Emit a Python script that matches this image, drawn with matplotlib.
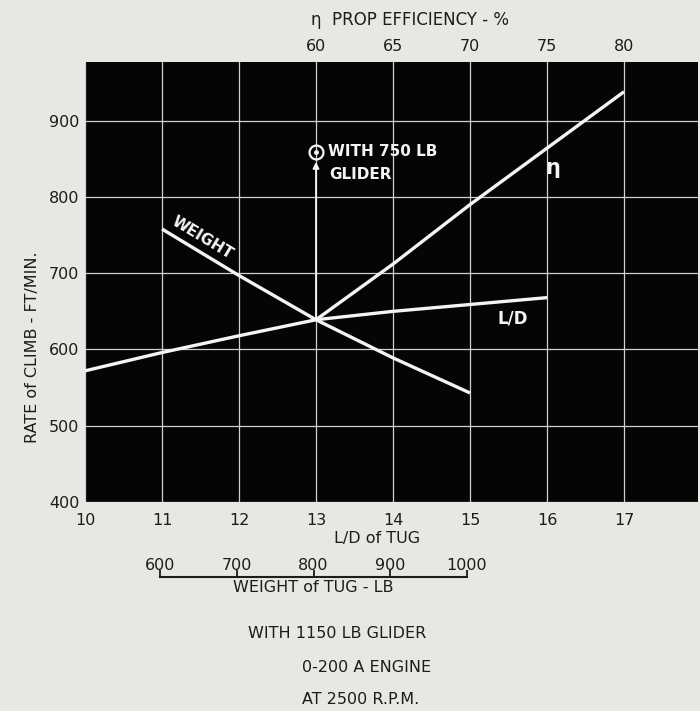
import numpy as np
import matplotlib
matplotlib.use('Agg')
import matplotlib.pyplot as plt

# data
ld = [10, 11, 12, 13, 14, 15, 16]
rc_ld = [572, 596, 618, 639, 650, 659, 668]

weight = [600, 700, 800, 900, 1000]
rc_weight = [758, 697, 639, 589, 543]

eta = [60, 65, 70, 75, 80]
rc_eta = [639, 712, 790, 864, 938]

glider750_rc = 859
weight_ticks = [600, 700, 800, 900, 1000]
eta_ticks = [60, 65, 70, 75, 80]

def w_to_x(w):
    return 11 + (np.asarray(w) - 600) / 100.0

def eta_to_x(e):
    return 13 + (np.asarray(e) - 60) / 5.0

def x_to_eta(x):
    return 60 + (np.asarray(x) - 13) * 5.0

bg = '#e7e7e4'
ink = '#1c1c1c'
W = 700
H = 711

fig = plt.figure(figsize=(7, 7.11), dpi=100, facecolor=bg)
ax = fig.add_axes([85 / W, 1 - 502 / H, (698 - 85) / W, 440 / H])
ax.set_facecolor('#050505')
ax.set_xlim(10, 10 + (698 - 85) / 77.0)
ax.set_ylim(400, 977)
ax.set_xticks(range(10, 18))
ax.set_yticks(range(400, 1000, 100))
ax.grid(color='#d0d0d0', lw=0.9)
ax.set_axisbelow(True)
for s in ax.spines.values():
    s.set_visible(False)
ax.tick_params(length=0, labelsize=11.5, colors=ink)
ax.tick_params(axis='x', pad=8)
ax.tick_params(axis='y', pad=4)

lw = 2.4
col = '#f4f4f4'
ax.plot(ld, rc_ld, color=col, lw=lw, solid_capstyle='butt')
ax.plot(w_to_x(weight), rc_weight, color=col, lw=lw, solid_capstyle='butt')
ax.plot(eta_to_x(eta), rc_eta, color=col, lw=lw, solid_capstyle='butt')

# arrow to the 750 lb glider point
ax.annotate('', xy=(13, 846), xytext=(13, 639),
            arrowprops=dict(arrowstyle='-|>', color=col, lw=1.3, mutation_scale=9,
                            shrinkA=0, shrinkB=0))
ax.plot(13, glider750_rc, marker='o', ms=10, mfc='none', mec=col, mew=1.6)
ax.plot(13, glider750_rc, marker='o', ms=2.5, color=col)
ax.text(13.15, glider750_rc, 'WITH 750 LB', color=col, fontsize=11, fontweight='bold',
        va='center', ha='left')
ax.text(13.17, 829, 'GLIDER', color=col, fontsize=11, fontweight='bold',
        va='center', ha='left')

ax.text(11.52, 746, 'WEIGHT', color=col, fontsize=11, fontweight='bold',
        rotation=-31, ha='center', va='center', rotation_mode='anchor')
ax.text(16.08, 838, 'η', color=col, fontsize=15, fontweight='bold',
        ha='center', va='center')
ax.text(15.55, 641, 'L/D', color=col, fontsize=12, fontweight='bold',
        ha='center', va='center')

ax.set_xlabel('L/D of TUG', fontsize=11.5, color=ink)
ax.xaxis.set_label_coords((377 - 85) / (698 - 85), -0.065)

# top axis: prop efficiency
top = ax.secondary_xaxis('top', functions=(x_to_eta, eta_to_x))
top.set_xticks(eta_ticks)
top.tick_params(length=0, labelsize=11.5, colors=ink, pad=6)
top.spines['top'].set_visible(False)
fig.text(410 / W, 1 - 20 / H, 'η  PROP EFFICIENCY - %', fontsize=12, color=ink,
         ha='center', va='center')

fig.text(33 / W, 1 - 347 / H, 'RATE of CLIMB - FT/MIN.', rotation=90,
         fontsize=11.5, color=ink, ha='center', va='center')

# separate weight scale below
wax = fig.add_axes([160 / W, 1 - 577 / H, (467 - 160) / W, 0.0001])
wax.set_facecolor('none')
wax.set_xlim(600, 1000)
wax.set_xticks(weight_ticks)
for k in ['top', 'left', 'right']:
    wax.spines[k].set_visible(False)
wax.spines['bottom'].set_color(ink)
wax.spines['bottom'].set_linewidth(1.5)
wax.yaxis.set_visible(False)
wax.tick_params(axis='x', direction='in', length=5, width=1.3, color=ink,
                labelbottom=False, labeltop=True, labelsize=11.5, labelcolor=ink, pad=3)
wax.set_xlabel('WEIGHT of TUG - LB', fontsize=11.5, color=ink, labelpad=2)

fig.text(337 / W, 1 - 633 / H, 'WITH 1150 LB GLIDER', fontsize=11.5, color=ink,
         ha='center', va='center')
fig.text(302 / W, 1 - 667 / H, '0-200 A ENGINE', fontsize=11.5, color=ink,
         ha='left', va='center')
fig.text(302 / W, 1 - 699 / H, 'AT 2500 R.P.M.', fontsize=11.5, color=ink,
         ha='left', va='center')

fig.savefig('out.png', dpi=100, facecolor=bg)
